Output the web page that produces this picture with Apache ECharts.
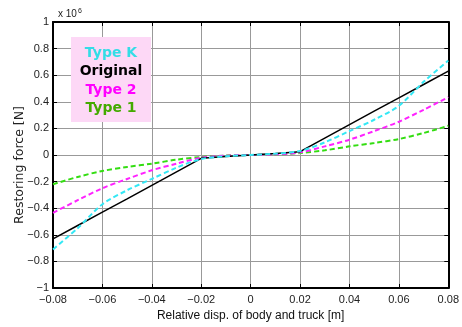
<!DOCTYPE html>
<html>
<head>
<meta charset="utf-8">
<script src="https://cdn.jsdelivr.net/npm/echarts@6/dist/echarts.min.js"></script>
<style>
  html, body { margin: 0; padding: 0; background: #fff; }
  #chart { width: 462px; height: 327px; }
</style>
</head>
<body>
<div id="chart"></div>
<script>
// relative displacement [m]
var disp = [-0.08, -0.07, -0.06, -0.05, -0.04, -0.03, -0.02, -0.01, 0,
            0.01, 0.02, 0.03, 0.04, 0.05, 0.06, 0.07, 0.08];
// restoring force [x 10^6 N]
var original = [-0.63, -0.53, -0.43, -0.33, -0.228, -0.127, -0.025, -0.012, 0,
                0.012, 0.025, 0.127, 0.228, 0.33, 0.43, 0.53, 0.63];
var typeK = [-0.71, -0.55, -0.37, -0.265, -0.18, -0.095, -0.03, -0.01, 0,
             0.01, 0.03, 0.095, 0.18, 0.265, 0.37, 0.55, 0.71];
var type2 = [-0.435, -0.34, -0.25, -0.18, -0.115, -0.065, -0.02, -0.005, 0,
             0.005, 0.02, 0.065, 0.115, 0.18, 0.25, 0.34, 0.435];
var type1 = [-0.22, -0.165, -0.12, -0.09, -0.065, -0.035, -0.015, -0.004, 0,
             0.004, 0.015, 0.035, 0.065, 0.09, 0.12, 0.165, 0.22];

var legendNames = ['Type K', 'Original', 'Type 2', 'Type 1'];
var legendColors = ['#33dde6', '#000000', '#ff00ff', '#44aa00'];

function pairs(ys) {
  return disp.map(function (x, i) { return [x, ys[i]]; });
}
function fmt(v, digits) {
  if (Math.abs(v) < 1e-9) return '0';
  var s = Math.abs(v).toFixed(digits).replace(/\.?0+$/, '');
  return (v < 0 ? '\u2212' : '') + s;
}

var chart = echarts.init(document.getElementById('chart'));

var tickFont = { fontFamily: 'Liberation Sans Narrow, Liberation Sans, sans-serif', fontSize: 11, color: '#222' };
var gridLine = { show: true, lineStyle: { color: '#999', width: 1 } };
var frame = { show: true, onZero: false, lineStyle: { color: '#000', width: 2 } };
var inTick = { show: true, inside: true, length: 4, lineStyle: { color: '#000' } };

// legend box in the upper left
var graphics = [{
  type: 'rect', left: 71, top: 37, shape: { width: 80, height: 85 },
  style: { fill: '#fdd8f6' }, z: 10
}];
legendNames.forEach(function (n, i) {
  graphics.push({
    type: 'text', x: 111, y: 53 + i * 18.5, z: 11,
    style: {
      text: n, fill: legendColors[i], align: 'center', verticalAlign: 'middle',
      font: 'bold 14px "DejaVu Sans", Verdana, sans-serif'
    }
  });
});
// y axis title
graphics.push({
  type: 'text', x: 20, y: 165, rotation: Math.PI / 2, z: 11,
  style: {
    text: 'Restoring force [N]', fill: '#222', align: 'center', verticalAlign: 'middle',
    font: '12.5px "DejaVu Sans", sans-serif'
  }
});
// exponent
graphics.push({
  type: 'text', x: 58, y: 14, z: 11,
  style: {
    text: '{a|x 10}{b|6}',
    verticalAlign: 'middle',
    rich: {
      a: { fontSize: 10, fontFamily: 'Liberation Sans Narrow, sans-serif', fill: '#222' },
      b: { fontSize: 7, fontFamily: 'Liberation Sans Narrow, sans-serif', fill: '#222', verticalAlign: 'top', padding: [0, 0, 6, 1] }
    }
  }
});

chart.setOption({
  animation: false,
  grid: { left: 53, right: 11, top: 22, bottom: 37 },
  xAxis: [{
    type: 'value', min: -0.08, max: 0.08, interval: 0.02,
    axisLine: frame, axisTick: inTick, splitLine: gridLine,
    axisLabel: Object.assign({ margin: 6, formatter: function (v) { return fmt(v, 2); } }, tickFont),
    name: 'Relative disp. of body and truck [m]', nameLocation: 'middle', nameGap: 22,
    nameTextStyle: { fontFamily: 'Liberation Sans Narrow, Liberation Sans, sans-serif', fontSize: 12, color: '#111' }
  }, {
    type: 'value', position: 'top', min: -0.08, max: 0.08, interval: 0.02,
    axisLine: frame, axisTick: inTick, splitLine: { show: false }, axisLabel: { show: false }
  }],
  yAxis: [{
    type: 'value', min: -1, max: 1, interval: 0.2,
    axisLine: frame, axisTick: inTick, splitLine: gridLine,
    axisLabel: Object.assign({ margin: 4, formatter: function (v) { return fmt(v, 1); } }, tickFont)
  }, {
    type: 'value', position: 'right', min: -1, max: 1, interval: 0.2,
    axisLine: frame, axisTick: inTick, splitLine: { show: false }, axisLabel: { show: false }
  }],
  graphic: graphics,
  series: [{
    name: 'Type 1', type: 'line', data: pairs(type1), smooth: 0.3, showSymbol: false,
    lineStyle: { color: '#33dd11', width: 2, type: [5, 3] }
  }, {
    name: 'Type 2', type: 'line', data: pairs(type2), smooth: 0.3, showSymbol: false,
    lineStyle: { color: '#ff22ff', width: 2, type: [5, 3] }
  }, {
    name: 'Original', type: 'line', data: pairs(original), showSymbol: false,
    lineStyle: { color: '#000', width: 1.5 }
  }, {
    name: 'Type K', type: 'line', data: pairs(typeK), smooth: 0.3, showSymbol: false,
    lineStyle: { color: '#33e8f5', width: 2, type: [5, 3] }
  }]
});
</script>
</body>
</html>
